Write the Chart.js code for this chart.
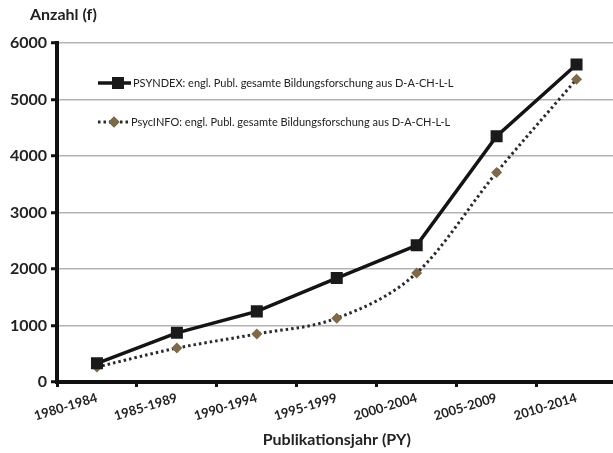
<!DOCTYPE html>
<html>
<head>
<meta charset="utf-8">
<script src="https://cdn.jsdelivr.net/npm/chart.js@4.4.1/dist/chart.umd.min.js"></script>
<style>
  html, body { margin: 0; padding: 0; background: #fff; overflow: hidden; }
  #wrap { width: 613px; height: 453px; overflow: hidden; }
</style>
</head>
<body>
<div id="wrap"><canvas id="c" width="625" height="453"></canvas></div>
<script>
const categories = ['1980-1984', '1985-1989', '1990-1994', '1995-1999', '2000-2004', '2005-2009', '2010-2014'];
const psyndexValues = [330, 870, 1250, 1840, 2420, 4350, 5620];
const psycinfoValues = [265, 600, 850, 1130, 1930, 3710, 5360];
const psyndexLabel = 'PSYNDEX: engl. Publ. gesamte Bildungsforschung aus D-A-CH-L-L';
const psycinfoLabel = 'PsycINFO: engl. Publ. gesamte Bildungsforschung aus D-A-CH-L-L';
const yTicks = [0, 1000, 2000, 3000, 4000, 5000, 6000];
const yTitle = 'Anzahl (f)';
const xTitle = 'Publikationsjahr (PY)';

const FONT = 'Lato, "Open Sans", sans-serif';

const legendPlugin = {
  id: 'insideLegend',
  afterDraw(chart) {
    const ctx = chart.ctx;
    const rows = [
      { ds: chart.data.datasets[0], y: 83, x0: 98, x1: 131, mx: 118, tx: 133 },
      { ds: chart.data.datasets[1], y: 122, x0: 98, x1: 129, mx: 114, tx: 131 }
    ];
    ctx.save();
    rows.forEach(r => {
      const ds = r.ds;
      ctx.beginPath();
      ctx.strokeStyle = ds.borderColor;
      ctx.lineWidth = ds.borderWidth;
      ctx.setLineDash(ds.borderDash || []);
      ctx.moveTo(r.x0, r.y);
      ctx.lineTo(r.x1, r.y);
      ctx.stroke();
      ctx.setLineDash([]);
      Chart.helpers.drawPoint(ctx, {
        pointStyle: ds.pointStyle,
        radius: ds.pointRadius,
        borderWidth: 0,
        rotation: 0
      }, r.mx, r.y);
      ctx.fillStyle = ds.pointBackgroundColor;
      ctx.fill();
      ctx.fillStyle = '#222';
      ctx.font = '11px ' + FONT;
      ctx.textBaseline = 'middle';
      ctx.textAlign = 'left';
      ctx.fillText(ds.label, r.tx, r.y);
    });
    ctx.font = 'bold 16px ' + FONT;
    ctx.fillStyle = '#222';
    ctx.textBaseline = 'middle';
    ctx.fillText(yTitle, 30, 15);
    ctx.restore();
  }
};

new Chart(document.getElementById('c'), {
  type: 'line',
  data: {
    labels: categories,
    datasets: [
      {
        label: psyndexLabel,
        data: psyndexValues,
        borderColor: '#141414',
        borderWidth: 3.5,
        pointStyle: 'rect',
        pointRadius: 8.5,
        pointBackgroundColor: '#1a1a1a',
        pointBorderWidth: 0,
        tension: 0
      },
      {
        label: psycinfoLabel,
        data: psycinfoValues,
        borderColor: '#2a2a2a',
        borderWidth: 3,
        borderDash: [2.5, 3],
        pointStyle: 'rectRot',
        pointRadius: 5.5,
        pointBackgroundColor: '#7d6b48',
        pointBorderWidth: 0,
        cubicInterpolationMode: 'monotone'
      }
    ]
  },
  options: {
    responsive: false,
    animation: false,
    devicePixelRatio: 1,
    layout: { padding: { top: 43, right: 4, left: 0, bottom: 0 } },
    plugins: {
      legend: { display: false },
      tooltip: { enabled: false }
    },
    scales: {
      x: {
        type: 'category',
        offset: true,
        grid: {
          offset: true,
          drawOnChartArea: false,
          drawTicks: true,
          tickLength: 5,
          tickColor: '#111',
          tickWidth: 3
        },
        border: { display: true, color: '#111', width: 4 },
        ticks: {
          color: '#222',
          font: { family: FONT, size: 13, weight: 'bold' },
          minRotation: 17,
          maxRotation: 17,
          padding: 3
        },
        title: {
          display: true,
          text: xTitle,
          color: '#222',
          font: { family: FONT, size: 16, weight: 'bold' },
          padding: { top: 6, bottom: 4 }
        },
        afterFit(scale) { scale.height = 71; }
      },
      y: {
        min: 0,
        max: 6000,
        afterBuildTicks(scale) { scale.ticks = yTicks.map(v => ({ value: v })); },
        grid: {
          color: '#b4b4b4',
          lineWidth: 1.5,
          drawTicks: true,
          tickLength: 6,
          tickColor: '#111',
          tickWidth: 3
        },
        border: { display: true, color: '#111', width: 4 },
        ticks: {
          color: '#222',
          font: { family: FONT, size: 16, weight: 'bold' },
          padding: 4,
          callback: (v) => String(v)
        },
        afterFit(scale) { scale.width = 57; }
      }
    }
  },
  plugins: [legendPlugin]
});
</script>
</body>
</html>
